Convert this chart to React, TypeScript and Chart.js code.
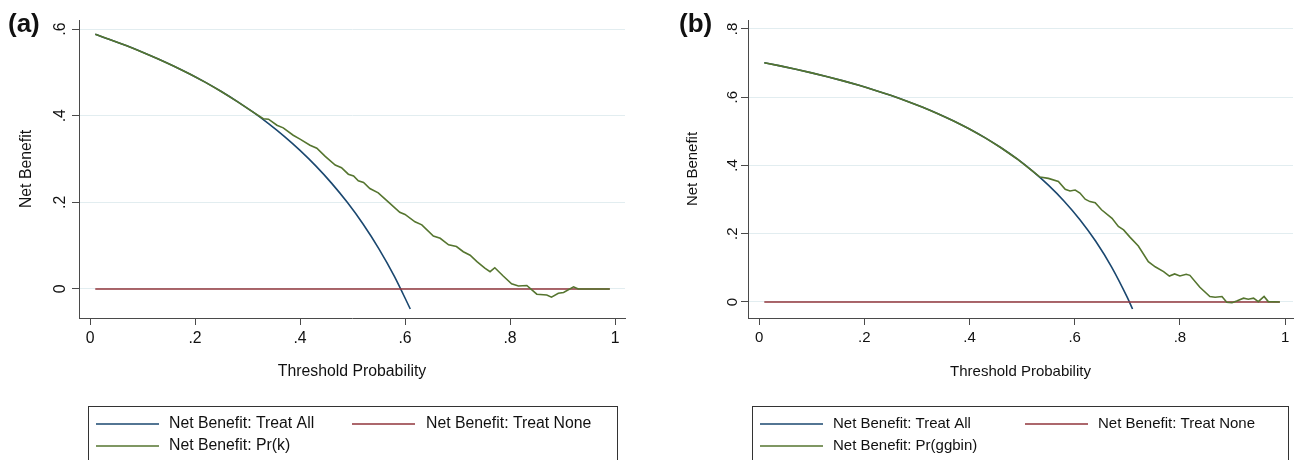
import React, { useEffect, useRef } from "react";
import { Chart, registerables } from "chart.js";
Chart.register(...registerables);

const FONT = "'Liberation Sans', Arial, Helvetica, sans-serif";

// ---------- shared tick data ----------
const xTickValues = [0, 0.2, 0.4, 0.6, 0.8, 1];
const xTickLabels = ["0", ".2", ".4", ".6", ".8", "1"];

// ---------- panel (a) ----------
const yTickValuesA = [0, 0.2, 0.4, 0.6];
const yTickLabelsA = ["0", ".2", ".4", ".6"];

const treatAllThrA = [0.01, 0.04, 0.07, 0.1, 0.13, 0.16, 0.19, 0.22, 0.25, 0.28, 0.31, 0.34, 0.37, 0.4, 0.43, 0.46, 0.49, 0.52, 0.55, 0.58, 0.61];
const treatAllNbA = [0.5879, 0.575, 0.5613, 0.5467, 0.531, 0.5143, 0.4963, 0.4769, 0.456, 0.4333, 0.4087, 0.3818, 0.3524, 0.32, 0.2842, 0.2444, 0.2, 0.15, 0.0933, 0.0286, -0.0462];

const modelThrA = [0.01, 0.04, 0.07, 0.1, 0.13, 0.16, 0.19, 0.22, 0.25, 0.28, 0.31, 0.33, 0.34, 0.356, 0.368, 0.387, 0.4, 0.419, 0.432, 0.448, 0.467, 0.479, 0.492, 0.502, 0.511, 0.521, 0.533, 0.549, 0.568, 0.59, 0.6, 0.619, 0.632, 0.654, 0.667, 0.683, 0.698, 0.711, 0.724, 0.737, 0.752, 0.762, 0.771, 0.787, 0.803, 0.816, 0.832, 0.851, 0.87, 0.879, 0.892, 0.902, 0.921, 0.93, 0.99];
const modelNbA = [0.5879, 0.575, 0.5613, 0.5467, 0.531, 0.5143, 0.4963, 0.4769, 0.456, 0.4333, 0.4087, 0.393, 0.392, 0.378, 0.372, 0.355, 0.346, 0.332, 0.325, 0.306, 0.286, 0.28, 0.265, 0.261, 0.25, 0.246, 0.232, 0.222, 0.201, 0.177, 0.172, 0.155, 0.148, 0.122, 0.117, 0.102, 0.098, 0.086, 0.078, 0.063, 0.048, 0.04, 0.049, 0.03, 0.012, 0.007, 0.008, -0.012, -0.014, -0.019, -0.01, -0.008, 0.005, 0, 0];

// ---------- panel (b) ----------
const yTickValuesB = [0, 0.2, 0.4, 0.6, 0.8];
const yTickLabelsB = ["0", ".2", ".4", ".6", ".8"];

const treatAllThrB = [0.01, 0.04, 0.07, 0.1, 0.13, 0.16, 0.19, 0.22, 0.25, 0.28, 0.31, 0.34, 0.37, 0.4, 0.43, 0.46, 0.49, 0.52, 0.55, 0.58, 0.61, 0.64, 0.67, 0.7, 0.71];
const treatAllNbB = [0.701, 0.6917, 0.6817, 0.6711, 0.6598, 0.6476, 0.6346, 0.6205, 0.6053, 0.5889, 0.571, 0.5515, 0.5302, 0.5067, 0.4807, 0.4518, 0.4196, 0.3833, 0.3422, 0.2952, 0.241, 0.1778, 0.103, 0.0133, -0.0207];

const modelThrB = [0.01, 0.04, 0.07, 0.1, 0.13, 0.16, 0.19, 0.22, 0.25, 0.28, 0.31, 0.34, 0.37, 0.4, 0.43, 0.46, 0.49, 0.52, 0.534, 0.55, 0.569, 0.582, 0.591, 0.601, 0.61, 0.62, 0.629, 0.639, 0.651, 0.671, 0.683, 0.693, 0.705, 0.721, 0.74, 0.753, 0.769, 0.78, 0.79, 0.8, 0.812, 0.819, 0.838, 0.857, 0.867, 0.88, 0.889, 0.899, 0.908, 0.921, 0.93, 0.94, 0.949, 0.96, 0.968, 0.99];
const modelNbB = [0.701, 0.6917, 0.6817, 0.6711, 0.6598, 0.6476, 0.6346, 0.6205, 0.6053, 0.5889, 0.571, 0.5515, 0.5302, 0.5067, 0.4807, 0.4518, 0.4196, 0.3833, 0.366, 0.362, 0.353, 0.33, 0.325, 0.328, 0.319, 0.301, 0.294, 0.291, 0.27, 0.245, 0.221, 0.211, 0.19, 0.164, 0.118, 0.103, 0.089, 0.076, 0.082, 0.076, 0.081, 0.078, 0.043, 0.016, 0.014, 0.016, -0.001, -0.002, 0.003, 0.011, 0.008, 0.011, 0.001, 0.016, 0.001, 0];

const treatNoneThr = [0.01, 0.99];
const treatNoneNb = [0, 0];

const seriesNames = ["Net Benefit: Treat All", "Net Benefit: Treat None"];
const modelNameA = "Net Benefit: Pr(k)";
const modelNameB = "Net Benefit: Pr(ggbin)";

const BLUE = "#1a476f";
const RED = "#90353b";
const GREEN = "#55752f";
const AXIS = "#4a4a4a";
const GRID = "#e2edf0";
const TEXT = "#111111";

type PanelCfg = {
  tag: string;
  fs: number;
  yTicks: number[];
  yLabels: string[];
  yMin: number;
  yMax: number;
  xMin: number;
  xMax: number;
  yWidth: number;
  padRight: number;
  yLabOff: number;
  yTitleX: number;
  tagX: number;
  legLeft: number;
  legRight: number;
  col2Line: number;
  col2Text: number;
  treatAll: [number[], number[]];
  model: [number[], number[]];
  modelName: string;
};

const toPts = (xs: number[], ys: number[]) => xs.map((x, i) => ({ x, y: ys[i] }));

function makeChart(canvas: HTMLCanvasElement, cfg: PanelCfg) {
  const FS = cfg.fs;
  const overlay = {
    id: "overlay",
    afterDraw(chart: any) {
      const ctx = chart.ctx as CanvasRenderingContext2D;
      const ca = chart.chartArea;
      const ys = chart.scales.y;
      ctx.save();
      ctx.fillStyle = TEXT;
      ctx.font = `${FS}px ${FONT}`;
      ctx.textAlign = "center";
      ctx.textBaseline = "middle";
      cfg.yTicks.forEach((v, i) => {
        const py = ys.getPixelForValue(v);
        ctx.save();
        ctx.translate(ca.left - cfg.yLabOff, py);
        ctx.rotate(-Math.PI / 2);
        ctx.fillText(cfg.yLabels[i], 0, 0);
        ctx.restore();
      });
      // y title
      ctx.save();
      ctx.translate(cfg.yTitleX, (ca.top + ca.bottom) / 2);
      ctx.rotate(-Math.PI / 2);
      ctx.fillText("Net Benefit", 0, 0);
      ctx.restore();
      // x title
      ctx.fillText("Threshold Probability", (ca.left + ca.right) / 2, 372);
      // panel tag
      ctx.font = `bold 26px ${FONT}`;
      ctx.textAlign = "left";
      ctx.fillText(cfg.tag, cfg.tagX, 25);
      // legend
      ctx.strokeStyle = "#333";
      ctx.lineWidth = 1;
      ctx.strokeRect(cfg.legLeft + 0.5, 406.5, cfg.legRight - cfg.legLeft, 80);
      ctx.font = `${FS}px ${FONT}`;
      const items: [string, string, number, number, number][] = [
        [seriesNames[0], BLUE, cfg.legLeft + 8, cfg.legLeft + 81, 424],
        [seriesNames[1], RED, cfg.legLeft + cfg.col2Line, cfg.legLeft + cfg.col2Text, 424],
        [cfg.modelName, GREEN, cfg.legLeft + 8, cfg.legLeft + 81, 446],
      ];
      items.forEach(([name, col, lx, tx, y]) => {
        ctx.strokeStyle = col;
        ctx.lineWidth = 1.6;
        ctx.beginPath();
        ctx.moveTo(lx, y);
        ctx.lineTo(lx + 63, y);
        ctx.stroke();
        ctx.fillStyle = TEXT;
        ctx.fillText(name, tx, y);
      });
      ctx.restore();
    },
  };

  return new Chart(canvas, {
    type: "line",
    data: {
      datasets: [
        {
          label: seriesNames[0],
          data: toPts(cfg.treatAll[0], cfg.treatAll[1]),
          borderColor: BLUE,
          borderWidth: 1.6,
          pointRadius: 0,
          cubicInterpolationMode: "monotone",
          order: 3,
        },
        {
          label: seriesNames[1],
          data: toPts(treatNoneThr, treatNoneNb),
          borderColor: RED,
          borderWidth: 1.6,
          pointRadius: 0,
          order: 2,
        },
        {
          label: cfg.modelName,
          data: toPts(cfg.model[0], cfg.model[1]),
          borderColor: GREEN,
          borderWidth: 1.6,
          pointRadius: 0,
          tension: 0,
          order: 1,
        },
      ],
    },
    options: {
      animation: false,
      responsive: false,
      events: [],
      layout: { padding: { left: 0, top: 20, right: cfg.padRight, bottom: 0 } },
      plugins: { legend: { display: false }, tooltip: { enabled: false }, title: { display: false } },
      scales: {
        x: {
          type: "linear",
          min: cfg.xMin,
          max: cfg.xMax,
          afterBuildTicks: (s: any) => {
            s.ticks = xTickValues.map((v) => ({ value: v }));
          },
          afterFit: (s: any) => {
            s.height = 142;
          },
          ticks: {
            autoSkip: false,
            maxRotation: 0,
            padding: 4,
            color: TEXT,
            font: { family: FONT, size: FS },
            callback: (v: any) => {
              const i = xTickValues.findIndex((t) => Math.abs(t - Number(v)) < 1e-9);
              return i >= 0 ? xTickLabels[i] : "";
            },
          },
          grid: { drawOnChartArea: false, drawTicks: true, tickLength: 7, tickColor: AXIS, tickWidth: 1 },
          border: { display: true, color: AXIS, width: 1 },
        },
        y: {
          type: "linear",
          min: cfg.yMin,
          max: cfg.yMax,
          afterBuildTicks: (s: any) => {
            s.ticks = cfg.yTicks.map((v) => ({ value: v }));
          },
          afterFit: (s: any) => {
            s.width = cfg.yWidth;
          },
          ticks: { display: false },
          grid: { color: GRID, lineWidth: 1, drawTicks: true, tickLength: 7, tickColor: AXIS, tickWidth: 1 },
          border: { display: true, color: AXIS, width: 1 },
        },
      },
    },
    plugins: [overlay],
  } as any);
}

const panelA: PanelCfg = {
  tag: "(a)",
  fs: 15.8,
  yTicks: yTickValuesA,
  yLabels: yTickLabelsA,
  yMin: -0.067,
  yMax: 0.621,
  xMin: -0.021,
  xMax: 1.019,
  yWidth: 79,
  padRight: 22,
  yLabOff: 18,
  yTitleX: 27,
  tagX: 8,
  legLeft: 88,
  legRight: 617,
  col2Line: 264,
  col2Text: 338,
  treatAll: [treatAllThrA, treatAllNbA],
  model: [modelThrA, modelNbA],
  modelName: modelNameA,
};

const panelB: PanelCfg = {
  tag: "(b)",
  fs: 15,
  yTicks: yTickValuesB,
  yLabels: yTickLabelsB,
  yMin: -0.047,
  yMax: 0.826,
  xMin: -0.021,
  xMax: 1.015,
  yWidth: 101,
  padRight: 1,
  yLabOff: 15,
  yTitleX: 46,
  tagX: 32,
  legLeft: 105,
  legRight: 641,
  col2Line: 273,
  col2Text: 346,
  treatAll: [treatAllThrB, treatAllNbB],
  model: [modelThrB, modelNbB],
  modelName: modelNameB,
};

function Panel({ cfg, left }: { cfg: PanelCfg; left: number }) {
  const ref = useRef<HTMLCanvasElement | null>(null);
  useEffect(() => {
    if (!ref.current) return;
    const chart = makeChart(ref.current, cfg);
    return () => chart.destroy();
  }, [cfg]);
  return (
    <canvas
      ref={ref}
      width={647}
      height={460}
      style={{ position: "absolute", left, top: 0, width: 647, height: 460 }}
    />
  );
}

export default function App() {
  return (
    <div style={{ position: "absolute", left: 0, top: 0, width: 1294, height: 460, background: "#fff", overflow: "hidden" }}>
      <Panel cfg={panelA} left={0} />
      <Panel cfg={panelB} left={647} />
    </div>
  );
}
